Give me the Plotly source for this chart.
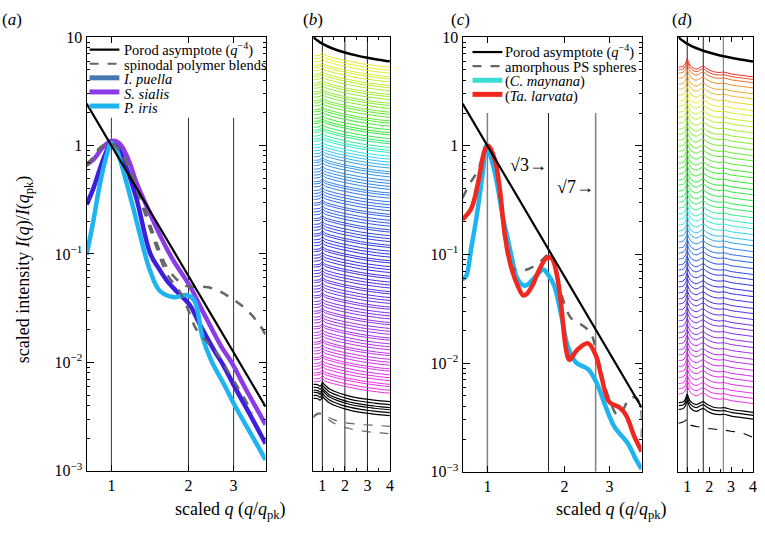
import colorsys
import numpy as np
import plotly.graph_objects as go

FONT = "Liberation Serif"
W, H = 765, 535

# ---------------- data: panel (a) ----------------
porod_exp = -4
ac_porod_q = [0.8, 4.0]

sialis_q = [0.8, 0.85, 0.93, 1.0, 1.05, 1.1, 1.18, 1.25, 1.37, 1.54, 1.74, 2.02, 2.3, 2.69, 2.93, 3.4, 4.0]
sialis_I = [0.667, 0.74, 0.97, 1.1, 1.09, 0.98, 0.69, 0.46, 0.28, 0.153, 0.088, 0.051, 0.028, 0.0139, 0.0102, 0.0053, 0.00267]

puella_q = [0.8, 0.85, 0.9, 0.95, 1.0, 1.05, 1.12, 1.25, 1.42, 1.54, 1.65, 1.8, 2.02, 2.2, 2.5, 2.75, 3.0, 3.5, 4.0]
puella_I = [0.285, 0.40, 0.6, 0.85, 1.08, 1.0, 0.72, 0.33, 0.1, 0.072, 0.0565, 0.045, 0.034, 0.023, 0.0133, 0.0092, 0.0062, 0.0032, 0.00178]

iris_q = [0.8, 0.85, 0.9, 0.95, 1.0, 1.05, 1.144, 1.22, 1.29, 1.41, 1.54, 1.74, 1.98, 2.11, 2.27, 2.45, 2.8, 3.0, 3.5, 4.0]
iris_I = [0.098, 0.2, 0.43, 0.75, 1.05, 0.9, 0.46, 0.26, 0.154, 0.072, 0.046, 0.040, 0.0416, 0.037, 0.017, 0.0105, 0.0058, 0.0042, 0.0022, 0.00126]

blend1_q = [0.8, 0.85, 0.9, 1.0, 1.1, 1.25, 1.45, 1.65, 1.85, 2.0, 2.2, 2.5, 2.8, 3.0, 3.4, 3.78, 4.0]
blend1_I = [0.67, 0.78, 0.95, 1.05, 0.85, 0.43, 0.16, 0.075, 0.055, 0.05, 0.05, 0.048, 0.042, 0.038, 0.03, 0.0224, 0.018]

blend2_q = [0.8, 0.85, 0.9, 1.0, 1.1, 1.25, 1.45, 1.65, 1.85, 2.0, 2.15, 2.56, 3.0, 3.3, 3.55]
blend2_I = [0.65, 0.76, 0.93, 1.05, 0.83, 0.40, 0.145, 0.065, 0.045, 0.03, 0.02, 0.0125, 0.0068, 0.0047, 0.0034]

a_guides_q = [1, 2, 3]

# ---------------- data: panel (c) ----------------
larvata_q = [0.8, 0.866, 0.92, 0.977, 1.01, 1.07, 1.118, 1.17, 1.24, 1.32, 1.38, 1.42, 1.5, 1.575, 1.70, 1.78,
             1.86, 1.94, 2.03, 2.09, 2.24, 2.47, 2.66, 2.78, 2.99, 3.28, 3.48, 3.75, 4.0]
larvata_I = [0.21, 0.266, 0.46, 0.91, 1.0, 0.74, 0.40, 0.15, 0.075, 0.05, 0.042, 0.043, 0.052, 0.068, 0.0925, 0.0925,
             0.068, 0.0344, 0.0132, 0.0107, 0.0132, 0.0152, 0.0115, 0.0077, 0.0044, 0.0039, 0.0033, 0.0021, 0.00154]

maynana_q = [0.8, 0.826, 0.866, 0.906, 0.962, 0.99, 1.07, 1.15, 1.2, 1.25, 1.3, 1.38, 1.42, 1.55, 1.65, 1.72,
             1.82, 1.94, 2.06, 2.22, 2.47, 2.66, 2.87, 3.13, 3.53, 3.8, 4.0]
maynana_I = [0.059, 0.063, 0.117, 0.217, 0.60, 1.0, 0.56, 0.217, 0.14, 0.09, 0.062, 0.052, 0.052, 0.0635, 0.0728, 0.066,
             0.052, 0.028, 0.0142, 0.0101, 0.0088, 0.0067, 0.0042, 0.0026, 0.00183, 0.0013, 0.00106]

spheres_q = [0.8, 0.85, 0.92, 1.0, 1.07, 1.12, 1.186, 1.24, 1.32, 1.44, 1.6, 1.74, 1.8, 1.88, 2.0, 2.12, 2.32,
             2.54, 2.74, 2.95, 3.23, 3.4, 3.59, 3.8, 3.97, 4.0]
spheres_I = [0.33, 0.44, 0.6, 1.0, 0.7, 0.32, 0.11, 0.076, 0.072, 0.073, 0.085, 0.1, 0.09, 0.059, 0.035, 0.026, 0.0227,
             0.0186, 0.0088, 0.0051, 0.0033, 0.0038, 0.0048, 0.0048, 0.0039, 0.0019]

c_guides_q = [1.0, 3 ** 0.5, 7 ** 0.5]
c_guide_labels = ["√3→", "√7→"]
c_guide_label_I = [0.665, 0.415]

# ---------------- data: panel (b) stacked curves ----------------
bd_porod_q = [0.6, 0.65, 0.7, 0.8, 0.9, 1.0, 1.2, 1.4, 1.7, 2.0, 2.5, 3.0, 3.5, 4.0]

b_q = [0.6, 0.7, 0.8, 0.9, 0.96, 1.0, 1.05, 1.15, 1.3, 1.5, 1.8, 2.2, 2.7, 3.2, 3.6, 4.0]
b_shape = [-0.45, -0.45, -0.42, -0.35, -0.15, 0, -0.2, -0.4, -0.55, -0.72, -0.95, -1.2, -1.5, -1.72, -1.88, -2.0]
b_black_shape = [-0.3, -0.3, -0.35, -0.55, -0.35, 0, -0.2, -0.5, -0.9, -1.2, -1.55, -1.9, -2.2, -2.4, -2.55, -2.65]
b_dash1_shape = [-0.5, -0.2, 0, 0, 0, 0, -0.1, -0.3, -0.6, -0.9, -1.2, -1.4, -1.55, -1.65, -1.72, -1.8]
b_dash2_shape = [-0.5, -0.2, 0, 0, 0, 0, -0.15, -0.4, -0.8, -1.2, -1.6, -1.95, -2.25, -2.45, -2.55, -2.65]

b_levels = [
    -1.2, -1.6, -2.0, -2.5, -2.8, -3.2, -3.7, -4.0, -4.4, -4.9,
    -5.2, -5.6, -6.1, -6.4, -6.8, -7.3, -7.6, -8.0, -8.5, -8.8,
    -9.2, -9.7, -10.1, -10.4, -10.9, -11.3, -11.6, -12.1, -12.5, -12.8,
    -13.3, -13.7, -14.1, -14.5, -14.9, -15.4, -15.7, -16.1, -16.6, -17.0,
    -17.4, -17.8, -18.3, -18.6, -19.0, -19.5, -19.9, -20.3, -20.7, -21.2,
    -21.5, -22.0, -22.4, -22.8, -23.3, -23.6, -24.1, -24.5, -24.9, -25.4,
    -25.7, -26.2, -26.6, -27.0, -27.5, -27.8, -28.3, -28.7, -29.1, -29.6,
    -29.9, -30.4, -30.8, -31.2, -31.7, -32.0, -32.5, -32.9, -33.3, -33.8,
    -34.1, -34.6, -35.0, -35.4, -35.9, -36.2, -36.7, -37.1, -37.5, -38.0,
    -38.3, -38.8, -39.2, -39.6, -40.1, -40.4, -40.9, -41.3, -41.7, -42.2,
    -42.5, -43.0, -43.4, -43.8, -44.3, -44.6, -45.1, -45.5,
]
b_black_levels = [-46.0, -46.4, -46.8, -47.1, -47.5, -47.9]
b_dash_levels = [-50.2, -50.35]
b_guides_q = [1, 2, 3]

# ---------------- data: panel (d) stacked curves ----------------
d_q = [0.6, 0.7, 0.8, 0.9, 0.95, 1.0, 1.05, 1.15, 1.4, 1.6, 1.73, 1.9, 2.2, 2.5, 2.67, 3.0, 3.5, 4.0]
d_shape = [-1.2, -1.15, -1.1, -0.8, -0.4, 0, -0.4, -1.0, -1.45, -1.2, -1.05, -1.4, -1.8, -1.9, -1.85, -2.1, -2.3, -2.5]
d_dash_shape = [-0.65, -0.6, -0.5, -0.35, -0.2, 0, -0.4, -0.9, -1.1, -1.2, -1.25, -1.35, -1.45, -1.55, -1.6, -1.75, -2.0, -2.6]
d_levels = [
    -2.0, -2.35, -2.8, -3.5, -4.3, -5.0, -5.8, -6.6, -7.3, -8.1,
    -8.8, -9.6, -10.4, -11.1, -11.9, -12.7, -13.4, -14.2, -15.0, -15.7,
    -16.5, -17.3, -18.0, -18.8, -19.6, -20.3, -21.1, -21.9, -22.6, -23.4,
    -24.2, -24.9, -25.7, -26.5, -27.2, -28.0, -28.8, -29.5, -30.3, -31.1,
    -31.8, -32.6, -33.4, -34.1, -34.9, -35.7, -36.4, -37.2, -38.0, -38.7,
    -39.5, -40.3, -41.0, -41.8, -42.6, -43.3, -44.1, -44.9, -45.6, -46.3,
]
d_black_levels = [-47.5, -47.9, -48.4]
d_dash_levels = [-50.8]
d_guides_q = [1.0, 3 ** 0.5, 7 ** 0.5]

# ---------------- legend labels ----------------
a_legend_labels = ["Porod asymptote (<i>q</i><sup>−4</sup>)", "spinodal polymer blends",
                   "<i>I. puella</i>", "<i>S. sialis</i>", "<i>P. iris</i>"]
c_legend_labels = ["Porod asymptote (<i>q</i><sup>−4</sup>)", "amorphous PS spheres",
                   "(<i>C. maynana</i>)", "(<i>Ta. larvata</i>)"]

# ---------------- styling ----------------
PUR = "#8c3ce6"
IND = "#3c1edc"
IND_LEG = "#4678b4"
SKY = "#1eb4f0"
RED = "#f0281e"
TURQ_LEG = "#3cdcd2"
GRAY = "#666666"

b_hue_frac = [0, 0.08, 0.22, 0.28, 0.32, 0.67, 0.82, 1.0]
b_hue_deg = [58, 80, 125, 180, 205, 250, 278, 305]
d_hue_frac = [0, 0.05, 0.12, 0.22, 0.42, 0.48, 0.56, 0.77, 0.89, 1.0]
d_hue_deg = [0, 30, 60, 95, 135, 180, 220, 262, 288, 305]


def hue_color(frac, fr, dg):
    h = np.interp(frac, fr, dg) / 360.0
    r, g, b = colorsys.hsv_to_rgb(h % 1.0, 0.82, 0.93)
    return "rgb(%d,%d,%d)" % (r * 255, g * 255, b * 255)


def px(p):       # pixel x -> paper
    return p / W


def py(p):       # pixel y (from top) -> paper
    return 1 - p / H


def dom_x(a, b):
    return [px(a), px(b)]


def dom_y(top, bottom):
    return [py(bottom), py(top)]


def porod(qs):
    return [q ** porod_exp for q in qs]


fig = go.Figure()


def line_trace(x, y, color, width, xa, ya, dash=None, shape="spline"):
    fig.add_trace(go.Scatter(x=x, y=y, mode="lines",
                             line=dict(color=color, width=width, dash=dash, shape=shape),
                             showlegend=False, xaxis=xa, yaxis=ya, hoverinfo="skip"))


# ---------- panel (a) ----------
line_trace(puella_q, puella_I, IND, 4.5, "x", "y")
line_trace(sialis_q, sialis_I, PUR, 4.5, "x", "y")
line_trace(iris_q, iris_I, SKY, 4.5, "x", "y")
line_trace(blend1_q, blend1_I, GRAY, 2.5, "x", "y", dash="dash")
line_trace(blend2_q, blend2_I, GRAY, 2.5, "x", "y", dash="dash")
line_trace(ac_porod_q, porod(ac_porod_q), "black", 2.2, "x", "y", shape="linear")

# ---------- panel (c) ----------
line_trace(maynana_q, maynana_I, SKY, 4.5, "x3", "y3")
line_trace(spheres_q, spheres_I, GRAY, 2.5, "x3", "y3", dash="dash")
line_trace(larvata_q, larvata_I, RED, 4.5, "x3", "y3")
line_trace(ac_porod_q, porod(ac_porod_q), "black", 2.2, "x3", "y3", shape="linear")

# ---------- panel (b) ----------
nb = len(b_levels)
for i, lev in enumerate(b_levels):
    line_trace(b_q, [10 ** (lev + s) for s in b_shape], hue_color(i / (nb - 1), b_hue_frac, b_hue_deg), 1, "x2", "y2")
for lev in b_black_levels:
    line_trace(b_q, [10 ** (lev + s) for s in b_black_shape], "black", 1.2, "x2", "y2")
for lev, shp in zip(b_dash_levels, [b_dash1_shape, b_dash2_shape]):
    line_trace(b_q, [10 ** (lev + s) for s in shp], GRAY, 1.2, "x2", "y2", dash="dash")
line_trace(bd_porod_q, porod(bd_porod_q), "black", 2.5, "x2", "y2")

# ---------- panel (d) ----------
nd = len(d_levels)
for i, lev in enumerate(d_levels):
    line_trace(d_q, [10 ** (lev + s) for s in d_shape], hue_color(i / (nd - 1), d_hue_frac, d_hue_deg), 1, "x4", "y4")
for lev in d_black_levels:
    line_trace(d_q, [10 ** (lev + s) for s in d_shape], "black", 1.2, "x4", "y4")
for lev in d_dash_levels:
    line_trace(d_q, [10 ** (lev + s) for s in d_dash_shape], "black", 1.1, "x4", "y4", dash="dash")
line_trace(bd_porod_q, porod(bd_porod_q), "black", 2.5, "x4", "y4")

# ---------- guide lines ----------
shapes = []
for q in a_guides_q:
    shapes.append(dict(type="line", xref="x", yref="y", x0=q, x1=q, y0=1e-3, y1=1.8,
                       line=dict(color="#333333", width=1), layer="below"))
for q, col, w in zip(c_guides_q, ["#808080", "#222222", "#808080"], [1.5, 1, 1.5]):
    shapes.append(dict(type="line", xref="x3", yref="y3", x0=q, x1=q, y0=1e-3, y1=2.0,
                       line=dict(color=col, width=w), layer="below"))
for q in b_guides_q:
    shapes.append(dict(type="line", xref="x2", yref="y2 domain", x0=q, x1=q, y0=0, y1=1,
                       line=dict(color="#222222", width=1), layer="below"))
for q, col in zip(d_guides_q, ["#222222", "#222222", "#707070"]):
    shapes.append(dict(type="line", xref="x4", yref="y4 domain", x0=q, x1=q, y0=0, y1=1,
                       line=dict(color=col, width=1), layer="below"))

# ---------- legends: swatches + one multi-line label block each ----------
ann = []
LEG_LINE_FONT = 11.2          # sets the line pitch (1.3 em = 14.6 px)
LEG_TEXT_PX = 14.5            # visible text size
pitch = LEG_LINE_FONT * 1.3


def legend_block(labels, styles, x_sw0, x_sw1, x_txt, y_first):
    n = len(labels)
    for k, (col, w, dsh) in enumerate(styles):
        yy = y_first + k * pitch
        shapes.append(dict(type="line", xref="paper", yref="paper", x0=px(x_sw0), x1=px(x_sw1),
                           y0=py(yy), y1=py(yy), line=dict(color=col, width=w, dash=dsh)))
    txt = "<br>".join('<span style="font-size:%.1fpx">%s</span>' % (LEG_TEXT_PX, s) for s in labels)
    y_mid = y_first + (n - 1) * pitch / 2
    ann.append(dict(text=txt, xref="paper", yref="paper", x=px(x_txt), y=py(y_mid), showarrow=False,
                    xanchor="left", yanchor="middle", align="left",
                    font=dict(family=FONT, size=LEG_LINE_FONT, color="black")))


legend_block(a_legend_labels,
             [("black", 2.2, "solid"), (GRAY, 2.2, "dash"), (IND_LEG, 5, "solid"), (PUR, 5, "solid"), (SKY, 5, "solid")],
             90, 120, 122, 43)
legend_block(c_legend_labels,
             [("black", 2.2, "solid"), (GRAY, 2.2, "dash"), (TURQ_LEG, 5, "solid"), (RED, 5, "solid")],
             475, 505, 506, 45.5)

# ---------- axes ----------
tickfont = dict(family=FONT, size=16, color="black")
base = dict(showline=True, linecolor="black", linewidth=1, mirror="allticks", ticks="inside",
            tickcolor="black", showgrid=False, zeroline=False, tickfont=tickfont,
            ticklabeloverflow="allow")

log_x = dict(base, type="log", range=[np.log10(0.8), np.log10(4.0)], tickvals=[1, 2, 3], ticklen=6)
log_y = dict(base, type="log", range=[-3, 1], tickvals=[1e-3, 1e-2, 1e-1, 1, 10],
             ticktext=["10<sup>−3</sup>", "10<sup>−2</sup>", "10<sup>−1</sup>", "1", "10"], ticklen=7,
             minor=dict(ticks="inside", ticklen=3, tickcolor="black", dtick="D1", showgrid=False))
lin_x = dict(base, type="linear", range=[0.6, 4.0], tickvals=[1, 2, 3, 4], ticklen=5,
             minor=dict(ticks="inside", ticklen=3, tickcolor="black", dtick=0.5, showgrid=False))
stack_y = dict(base, type="log", range=[-58.05, 0.9], showticklabels=False, ticks="")

ya = dom_y(30, 478)
yc = dom_y(30, 479)

fig.update_layout(
    width=W, height=H, margin=dict(l=0, r=0, t=0, b=0),
    paper_bgcolor="white", plot_bgcolor="white",
    font=dict(family=FONT, size=16, color="black"),
    showlegend=False,
    xaxis=dict(log_x, domain=dom_x(87, 267), anchor="y"),
    yaxis=dict(log_y, domain=ya, anchor="x"),
    xaxis2=dict(lin_x, domain=dom_x(315, 392), anchor="y2"),
    yaxis2=dict(stack_y, domain=ya, anchor="x2"),
    xaxis3=dict(log_x, domain=dom_x(465, 645), anchor="y3"),
    yaxis3=dict(log_y, domain=yc, anchor="x3"),
    xaxis4=dict(lin_x, domain=dom_x(682, 757), anchor="y4"),
    yaxis4=dict(stack_y, domain=yc, anchor="x4"),
    shapes=shapes,
)

for txt, xx in [("(<i>a</i>)", 12), ("(<i>b</i>)", 315), ("(<i>c</i>)", 463), ("(<i>d</i>)", 686)]:
    ann.append(dict(text=txt, xref="paper", yref="paper", x=px(xx), y=py(12), showarrow=False,
                    font=dict(family=FONT, size=17), xanchor="center", yanchor="middle"))
for xx in [232, 615]:
    ann.append(dict(text="scaled <i>q</i> (<i>q</i>/<i>q</i><sub>pk</sub>)", xref="paper", yref="paper",
                    x=px(xx), y=py(519), showarrow=False, font=dict(family=FONT, size=18),
                    xanchor="center", yanchor="middle"))
ann.append(dict(text="scaled intensity <i>I</i>(<i>q</i>)/<i>I</i>(<i>q</i><sub>pk</sub>)", xref="paper",
                yref="paper", x=px(25), y=py(270), textangle=-90, showarrow=False,
                font=dict(family=FONT, size=18), xanchor="center", yanchor="middle"))
for q, lab, yv in zip(c_guides_q[1:], c_guide_labels, c_guide_label_I):
    ann.append(dict(text=lab, xref="x3", yref="y3", x=np.log10(q), y=np.log10(yv), showarrow=False,
                    font=dict(family=FONT, size=18), xanchor="right", yanchor="middle"))
fig.update_layout(annotations=ann)

# place the figure flush with the page corner (no default body margin / scrollbars), no mode bar
fig.write_html("out.html",
               config={"displayModeBar": False, "staticPlot": True},
               post_script="document.body.style.margin='0px';document.body.style.overflow='hidden';")
